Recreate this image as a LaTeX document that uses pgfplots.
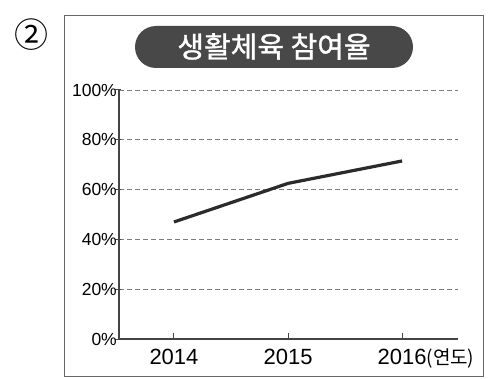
\documentclass[border=0pt]{standalone}
\usepackage{fontspec}
\setmainfont{Liberation Sans}
\newfontfamily\kr{Noto Sans CJK KR}
\newfontfamily\krb{Noto Sans CJK KR}[FakeBold=1.2]
\usepackage{pgfplots}
\pgfplotsset{compat=1.18}
\definecolor{pill}{HTML}{484848}
\definecolor{axc}{HTML}{444444}
\definecolor{gridc}{HTML}{7a7a7a}
\definecolor{linec}{HTML}{2b2b2b}
\begin{document}
\begin{tikzpicture}[x=1pt,y=1pt]
\path[use as bounding box] (0,0) rectangle (500,378);
% outer frame
\draw[color=gray!80!black, line width=1pt] (64,362) rectangle (483,2);
% circled number
\node[font=\kr\fontsize{34}{38}\selectfont, inner sep=0pt] at (31,343) {②};
% title pill
\fill[pill, rounded corners=21pt] (135,310) rectangle (413,352);
\node[text=white, font=\krb\fontsize{29}{32}\selectfont, inner sep=0pt] at (274,331.5) {생활체육 참여율};
\begin{axis}[
  at={(119pt,39pt)}, anchor=south west,
  scale only axis, width=339pt, height=249pt,
  xmin=2013.518, xmax=2016.49, ymin=0, ymax=100,
  axis x line=bottom, axis y line=left,
  axis line style={-, color=axc, line width=1.2pt},
  xtick={2014,2015,2016},
  xticklabels={2014,2015,{2016\rlap{\kr\fontsize{19}{22}\selectfont(연도)}}},
  ytick={0,20,40,60,80,100},
  yticklabel={\pgfmathprintnumber{\tick}\%},
  tick align=inside,
  major tick length=6pt,
  tick style={color=axc, line width=1pt},
  ytick style={xshift=-4pt},
  ymajorgrids,
  major grid style={dashed, color=gridc, line width=0.8pt, dash pattern=on 5pt off 3pt},
  /pgf/number format/assume math mode=true,
  xticklabel style={font=\fontsize{22}{24}\selectfont, inner sep=0pt, yshift=-10pt},
  yticklabel style={font=\fontsize{17.5}{20}\selectfont, inner sep=0pt, xshift=-2pt},
  clip=false,
]
\addplot[color=linec, line width=3.2pt] coordinates {(2014,47) (2015,62.5) (2016,71.5)};
\end{axis}
\end{tikzpicture}
\end{document}
